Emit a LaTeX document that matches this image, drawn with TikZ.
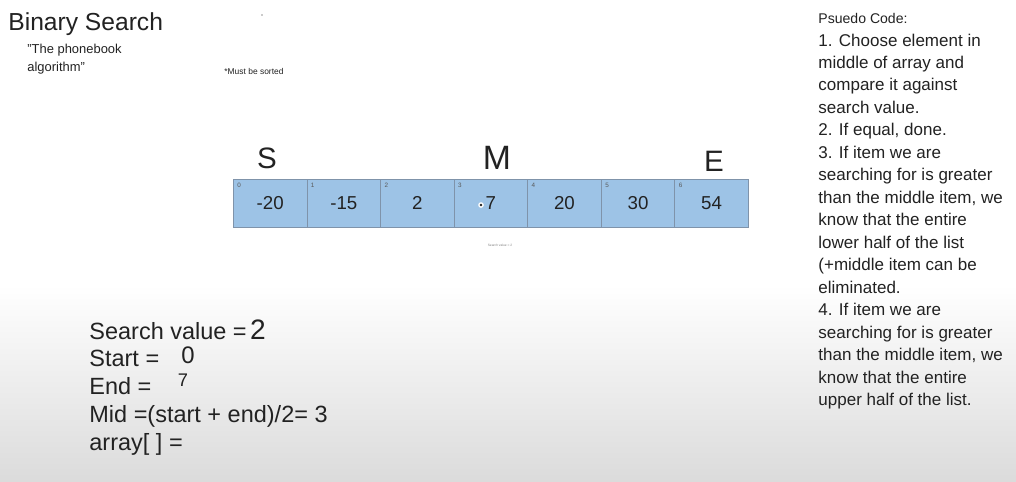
\documentclass[tikz,border=0pt]{standalone}
\usepackage{fontspec}
\setmainfont{Liberation Sans}
\definecolor{cellblue}{HTML}{9DC3E6}
\definecolor{celledge}{HTML}{7F93AA}
\definecolor{ink}{HTML}{222222}

\begin{document}
\begin{tikzpicture}[x=0.025cm,y=-0.025cm,line width=0.6pt,
  cellbox/.style={draw=celledge,fill=cellblue,minimum width=1.839cm,minimum height=1.2cm,
    inner sep=0pt,anchor=north west,text=ink,font=\fontsize{13.3}{15}\selectfont},
  idx/.style={anchor=north west,inner sep=0pt,text=ink!75,font=\fontsize{4.5}{5}\selectfont},
  pcline/.style={anchor=base west,inner sep=0pt,text=ink,font=\fontsize{12.1}{14}\selectfont},
  varline/.style={anchor=base west,inner sep=0pt,text=ink,font=\fontsize{16.7}{20}\selectfont},
  hand/.style={inner sep=0pt,text=ink,font=\fontsize{#1}{#1}\selectfont},
  hand/.default=20]
% ================= background =================
\fill[white] (0,0) rectangle (1016,481);
\shade[top color=white,bottom color=gray!28] (0,285) rectangle (1016,481);
\useasboundingbox (0,0) rectangle (1016,481);
\fill[ink] (262,15) circle (0.4pt);
% ================= heading =================
\node[anchor=base west,inner sep=0pt,text=ink,font=\fontsize{17.5}{20}\selectfont] (title) at (8,30) {Binary Search};
\node[anchor=north west,inner sep=0pt,align=left,text=ink,font=\fontsize{9.2}{12.6}\selectfont] (nick) at (27,44) {\symbol{34}The phonebook\\algorithm\symbol{34}};
\node[anchor=base west,inner sep=0pt,text=ink,font=\fontsize{6}{7}\selectfont] (note) at (224,74) {*Must be sorted};
% ================= array =================
\foreach \v [count=\i from 0] in {-20,-15,2,7,20,30,54} {
  \node[cellbox] (c\i) at ({233+73.57*\i},179) {\v};
  \node[idx] (i\i) at ([shift={(4,4)}]c\i.north west) {\i};
}
% cursor dot next to the 7
\fill[white] (481,205) circle (2pt);
\fill[ink] (481,205) circle (1pt);
\node[inner sep=0pt,text=gray,font=\fontsize{2.3}{3}\selectfont] (tiny) at (500,245) {Search value = 2};
% start / mid / end marks
\node[hand=21] (S) at (267,158) {S};
\node[hand=24] (M) at (497,158) {M};
\node[hand=21] (E) at (714,161) {E};
% ================= variables =================
\foreach \t [count=\k from 0] in {{Search value =},{Start =},{End =},{Mid =(start + end)/2= 3},{array[ ] =}}
  \node[varline] (var\k) at ({89},{339+27.8*\k}) {\t};
\node[hand=20] (sv) at (258,330) {2};
\node[hand=17] (st) at (188,355) {0};
\node[hand=13] (en) at (183,380) {7};
% ================= pseudo code =================
\node[anchor=base west,inner sep=0pt,text=ink,font=\fontsize{10}{12}\selectfont] (pc0) at (818,23.6) {Psuedo Code:};
\foreach \t [count=\k] in {{1. Choose element in},{middle of array and},{compare it against},{search value.},
  {2. If equal, done.},{3. If item we are},{searching for is greater},{than the middle item, we},
  {know that the entire},{lower half of the list},{(+middle item can be},{eliminated.},
  {4. If item we are},{searching for is greater},{than the middle item, we},{know that the entire},
  {upper half of the list.}}
  \node[pcline] (pc\k) at ({818},{46+22.47*(\k-1)}) {\t};
\end{tikzpicture}
\end{document}
